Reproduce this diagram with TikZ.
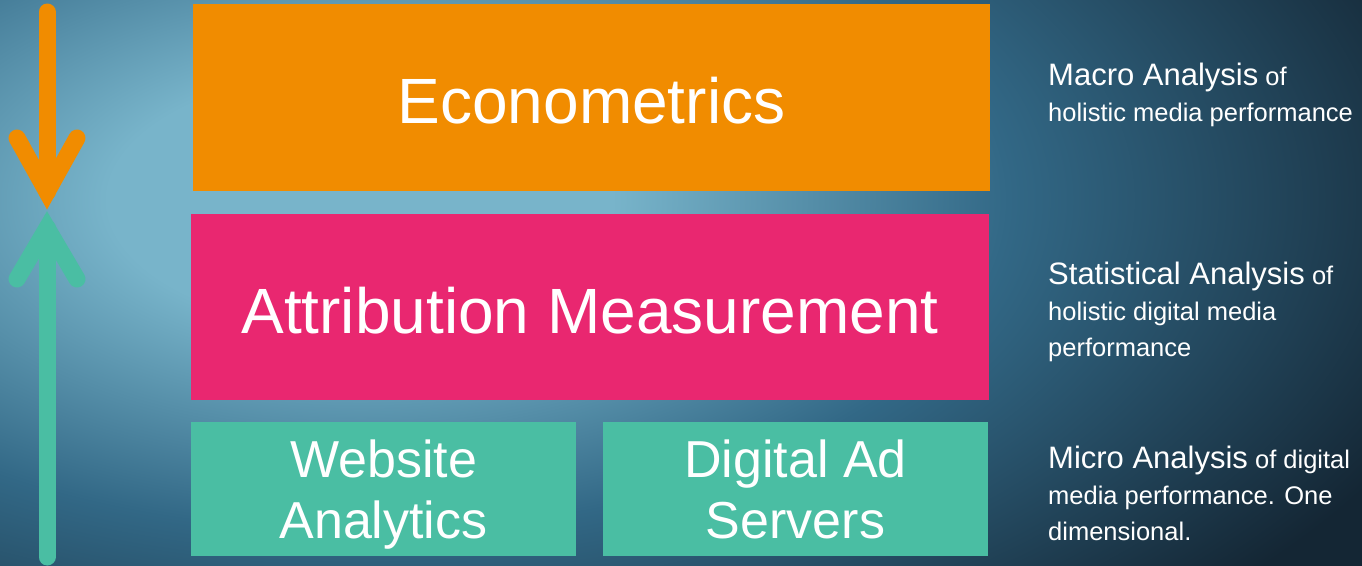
\documentclass[tikz,border=0pt]{standalone}
\usepackage{fontspec}
\setmainfont{Liberation Sans}
\usetikzlibrary{calc}

\definecolor{econ}{RGB}{241,140,0}
\definecolor{attr}{RGB}{233,39,112}
\definecolor{micro}{RGB}{74,190,163}
\definecolor{bgLight}{RGB}{120,180,202}
\definecolor{bgMid}{RGB}{50,104,134}
\definecolor{bgDark}{RGB}{20,38,52}
\pgfdeclareradialshading{backdrop}{\pgfpoint{0bp}{0bp}}{color(0bp)=(bgLight); color(3.5bp)=(bgLight); color(9bp)=(bgMid); color(16bp)=(bgDark); color(50bp)=(bgDark)}

\begin{document}
\begin{tikzpicture}[x=1pt,y=-1pt,
    block/.style={fill=#1,text=white,inner sep=0pt,align=center},
    note/.style={text=white,anchor=base west,align=left,inner sep=0pt,font=\fontsize{25.5}{36}\selectfont},
    flow/.style={line width=17pt,line cap=round,line join=miter}]
  % backdrop, lighter towards the upper left
  \useasboundingbox (0,0) rectangle (1362,565);
  \begin{scope}
    \clip (0,0) rectangle (1362,565);
    \fill[bgDark] (0,0) rectangle (1362,565);
    \shade[shading=backdrop] (360,200) ellipse [x radius=1800pt, y radius=920pt];
  \end{scope}

  % the three layers
  \node[block=econ,minimum width=797pt,minimum height=187pt,text height=52pt,text depth=0pt,font=\fontsize{64}{64}\selectfont] (econ) at (591.5,97.5) {Econometrics};
  \node[block=attr,minimum width=798pt,minimum height=186pt,text height=52pt,text depth=0pt,font=\fontsize{64}{64}\selectfont] (attrib) at (590,307) {Attribution Measurement};
  \node[block=micro,minimum width=385pt,minimum height=134pt,text depth=0pt,font=\fontsize{52}{61}\selectfont] (web) at (383.5,489) {Website\\Analytics};
  \node[block=micro,minimum width=385pt,minimum height=134pt,text depth=0pt,font=\fontsize{52}{61}\selectfont] (adserv) at (795.5,489) {Digital Ad\\Servers};

  % descriptions on the right (placed by their last line)
  \node[note] (macro) at (1048,121) {{\fontsize{31}{36}\selectfont Macro Analysis} of\\holistic media performance};
  \node[note] (stat) at (1048,356) {{\fontsize{31}{36}\selectfont Statistical Analysis} of\\holistic digital media\\performance};
  \node[note] (micro) at (1048,540) {{\fontsize{31}{36}\selectfont Micro Analysis} of digital\\media performance. One\\dimensional.};

  % top-down and bottom-up arrows
  \coordinate (downStart) at (47,12);
  \coordinate (downTip) at (47,192);
  \coordinate (upStart) at (47,557);
  \coordinate (upTip) at (47,228);
  \draw[flow,econ] (downStart) -- (downTip);
  \draw[flow,econ] ($(downTip)+(-30,-54)$) -- (downTip) -- ($(downTip)+(30,-54)$);
  \draw[flow,micro] (upStart) -- (upTip);
  \draw[flow,micro] ($(upTip)+(-30,51)$) -- (upTip) -- ($(upTip)+(30,51)$);
\end{tikzpicture}
\end{document}
